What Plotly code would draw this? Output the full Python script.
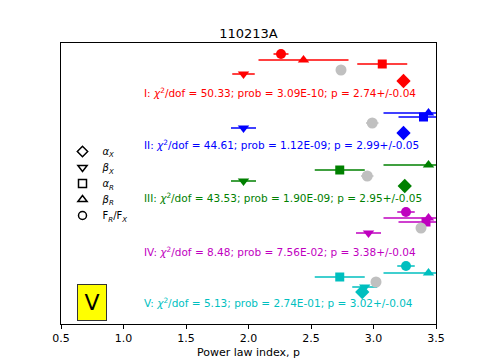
import plotly.graph_objects as go

# five fits (I..V); per-group values for each index type
groups = ['I', 'II', 'III', 'IV', 'V']
colors = ['#ff0000', '#0000ff', '#008000', '#bf00bf', '#00bfbf']

alpha_x = [3.24, 3.24, 3.25, None, 2.91]
alpha_x_err = [0.0, 0.0, 0.0, 0.0, 0.0]
beta_x = [1.96, 1.96, 1.96, 2.96, 2.93]
beta_x_err = [0.09, 0.10, 0.10, 0.10, 0.10]
alpha_r = [3.07, 3.40, 2.73, 3.42, 2.73]
alpha_r_err = [0.20, 0.20, 0.20, 0.22, 0.20]
beta_r = [2.44, 3.44, 3.44, 3.44, 3.44]
beta_r_err = [0.36, 0.36, 0.36, 0.36, 0.36]
ratio = [2.26, None, None, 3.26, 3.26]
ratio_err = [0.06, 0.0, 0.0, 0.07, 0.07]

p_fit = [2.74, 2.99, 2.95, 3.38, 3.02]
p_err = [0.04, 0.05, 0.05, 0.04, 0.04]
chi2_dof = [50.33, 44.61, 43.53, 8.48, 5.13]
prob = ['3.09E-10', '1.12E-09', '1.90E-09', '7.56E-02', '2.74E-01']

# vertical placement (arbitrary units, no y scale shown)
y_ratio = [270, 218, 165, 112, 58]
y_beta_r = [264, 211, 159, 106, 51]
y_alpha_r = [260, 207, 154, 102, 47]
y_p = [254, 201, 148, 96, 42]
y_beta_x = [250, 196, 143, 91, 37]
y_alpha_x = [243, 191, 138, 86, 32]
y_text = [232, 180, 127, 73, 22]

symbols = ['circle', 'triangle-up', 'square', 'triangle-down', 'diamond']
sizes = [10, 10, 9, 10, 11]

fig = go.Figure()

for i, g in enumerate(groups):
    xs = [ratio[i], beta_r[i], alpha_r[i], beta_x[i], alpha_x[i]]
    ys = [y_ratio[i], y_beta_r[i], y_alpha_r[i], y_beta_x[i], y_alpha_x[i]]
    errs = [ratio_err[i], beta_r_err[i], alpha_r_err[i], beta_x_err[i], alpha_x_err[i]]
    fig.add_trace(go.Scatter(
        x=xs, y=ys, mode='markers', showlegend=False,
        marker=dict(symbol=symbols, size=sizes, color=colors[i], opacity=1,
                    line=dict(width=0)),
        error_x=dict(type='data', array=errs, color=colors[i], thickness=1.5, width=0),
    ))

# fitted p for each group (grey)
fig.add_trace(go.Scatter(
    x=p_fit, y=y_p, mode='markers', showlegend=False,
    marker=dict(symbol='circle', size=11, color='#c0c0c0', opacity=1),
    error_x=dict(type='data', array=p_err, color='#c0c0c0', thickness=1.5, width=0),
))

for i, g in enumerate(groups):
    fig.add_annotation(
        x=1.15, y=y_text[i], xanchor='left', yanchor='middle', showarrow=False,
        text=f'{g}: <i>χ</i><sup>2</sup>/dof = {chi2_dof[i]:.2f}; prob = {prob[i]}; '
             f'p = {p_fit[i]:.2f}+/-{p_err[i]:.2f}',
        font=dict(size=10.5, color=colors[i]),
    )

# legend (open black symbols), one small legend per entry for tight spacing
leg_names = ['<i>α<sub>X</sub></i>', '<i>β<sub>X</sub></i>', '<i>α<sub>R</sub></i>',
             '<i>β<sub>R</sub></i>', 'F<sub><i>R</i></sub>/F<sub><i>X</i></sub>']
leg_symbols = ['diamond-open', 'triangle-down-open', 'square-open',
               'triangle-up-open', 'circle-open']
leg_y = [0.6655, 0.6085, 0.5516, 0.4947, 0.4377]
leg_layout = {}
for k, (nm, sym) in enumerate(zip(leg_names, leg_symbols)):
    lname = 'legend' if k == 0 else f'legend{k + 1}'
    fig.add_trace(go.Scatter(
        x=[None], y=[None], mode='markers', name=nm, legend=lname,
        marker=dict(symbol=sym, size=8, color='black', line=dict(width=1.5, color='black')),
    ))
    leg_layout[lname] = dict(x=0.004, y=leg_y[k], xanchor='left', yanchor='top',
                             bgcolor='rgba(0,0,0,0)', font=dict(size=10))

fig.add_annotation(
    x=0.75, y=22, text='V', showarrow=False, font=dict(size=22, color='black'),
    bgcolor='yellow', bordercolor='#333333', borderwidth=1, width=26, height=33,
)

fig.update_layout(
    width=485, height=364,
    margin=dict(l=61, r=49, t=43, b=40, autoexpand=False),
    paper_bgcolor='white', plot_bgcolor='white',
    font=dict(family='DejaVu Sans', color='black'),
    title=dict(text='110213A', x=0.5, xref='paper', xanchor='center',
               y=0.909, yanchor='middle', font=dict(size=13)),
    xaxis=dict(range=[0.5, 3.5], tickvals=[0.5, 1.0, 1.5, 2.0, 2.5, 3.0, 3.5],
               tickformat='.1f', ticks='outside', ticklen=4, tickcolor='black',
               showline=True, linecolor='black', linewidth=1, mirror=True,
               showgrid=False, zeroline=False, tickfont=dict(size=11), automargin=False,
               title=dict(text='Power law index, p', font=dict(size=11), standoff=4)),
    yaxis=dict(range=[0, 281], showticklabels=False, ticks='', showline=True,
               linecolor='black', linewidth=1, mirror=True, showgrid=False,
               zeroline=False, automargin=False),
    **leg_layout,
)

fig.write_html("out.html", config={'displayModeBar': False},
               post_script="document.body.style.margin='0px';")
